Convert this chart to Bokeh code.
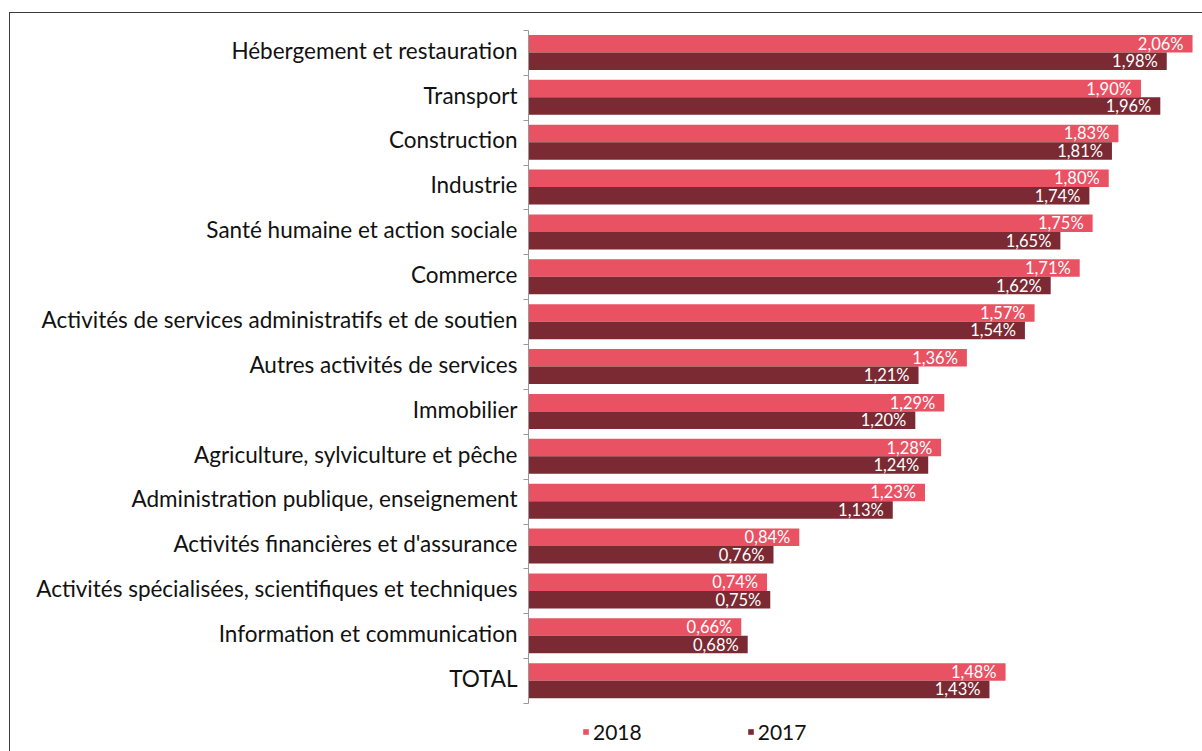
from bokeh.plotting import figure
from bokeh.models import ColumnDataSource, Range1d, FixedTicker, Legend, LegendItem
from bokeh.transform import dodge
from bokeh.core.properties import value
from bokeh.embed import file_html
from bokeh.resources import INLINE

categories = [
    "Hébergement et restauration",
    "Transport",
    "Construction",
    "Industrie",
    "Santé humaine et action sociale",
    "Commerce",
    "Activités de services administratifs et de soutien",
    "Autres activités de services",
    "Immobilier",
    "Agriculture, sylviculture et pêche",
    "Administration publique, enseignement",
    "Activités financières et d'assurance",
    "Activités spécialisées, scientifiques et techniques",
    "Information et communication",
    "TOTAL",
]
values_2018 = [2.06, 1.90, 1.83, 1.80, 1.75, 1.71, 1.57, 1.36, 1.29, 1.28, 1.23, 0.84, 0.74, 0.66, 1.48]
values_2017 = [1.98, 1.96, 1.81, 1.74, 1.65, 1.62, 1.54, 1.21, 1.20, 1.24, 1.13, 0.76, 0.75, 0.68, 1.43]
series_names = ["2018", "2017"]

COL_2018 = "#E95263"
COL_2017 = "#7B2A33"
FONT = "Lato"


def fmt(v):
    return f"{v:.2f}".replace(".", ",") + "%"


n = len(categories)
ypos = list(range(n))
src = ColumnDataSource(dict(
    y=ypos,
    v2018=values_2018,
    v2017=values_2017,
    l2018=[fmt(v) for v in values_2018],
    l2017=[fmt(v) for v in values_2017],
))

# frame spans page y 29..751; bands are ~44.87 px each
p = figure(
    width=1193, height=739,
    output_backend="svg", toolbar_location=None,
    x_range=Range1d(0, 2.094),
    y_range=Range1d(15.59, -0.5),
    min_border_left=518, min_border_right=0,
    min_border_top=17, min_border_bottom=0,
)
p.margin = (12, 0, 0, 9)
p.styles = {"border-top": "1px solid #3c3c3c", "border-left": "1px solid #3c3c3c"}
p.outline_line_color = None
p.background_fill_color = "white"
p.border_fill_color = "white"
p.xgrid.visible = False
p.ygrid.visible = False
p.xaxis.visible = False

OFF18, OFF17, H = -0.205, 0.185, 0.39

r18 = p.hbar(y=dodge("y", OFF18), left=0, right="v2018", height=H, source=src,
             fill_color=COL_2018, line_color=None)
r17 = p.hbar(y=dodge("y", OFF17), left=0, right="v2017", height=H, source=src,
             fill_color=COL_2017, line_color=None)

for col, off in (("2018", OFF18), ("2017", OFF17)):
    p.text(x="v" + col, y=dodge("y", off), text="l" + col, source=src,
           x_offset=-9, text_align="right", text_baseline="middle",
           text_color="white", text_font=value(FONT), text_font_size="16.5px")

# label anchors (zero-length major ticks) sit slightly above each band centre
label_pos = [i - 0.06 for i in ypos]
yax = p.yaxis[0]
yax.bounds = (-0.5, n - 0.5)
yax.ticker = FixedTicker(ticks=label_pos, minor_ticks=[i - 0.5 for i in range(n + 1)])
yax.major_label_overrides = {t: c for t, c in zip(label_pos, categories)}
yax.major_tick_out = 0
yax.major_tick_in = 0
yax.minor_tick_out = 5
yax.minor_tick_in = 0
yax.minor_tick_line_color = "#999999"
yax.axis_line_color = "#999999"
yax.major_label_standoff = 6
yax.major_label_text_font = FONT
yax.major_label_text_font_size = "22.5px"
yax.major_label_text_color = "#111111"

legend = Legend(
    items=[LegendItem(label=series_names[0], renderers=[r18]),
           LegendItem(label=series_names[1], renderers=[r17])],
    orientation="horizontal", location=(54, 8),
    glyph_width=7, glyph_height=7, label_standoff=4, spacing=105,
    padding=0, margin=0, border_line_color=None, background_fill_alpha=0,
    label_text_font=FONT, label_text_font_size="21px", label_height=20,
    label_text_color="#111111",
)
p.add_layout(legend)

open("out.html", "w").write(file_html(p, INLINE))
